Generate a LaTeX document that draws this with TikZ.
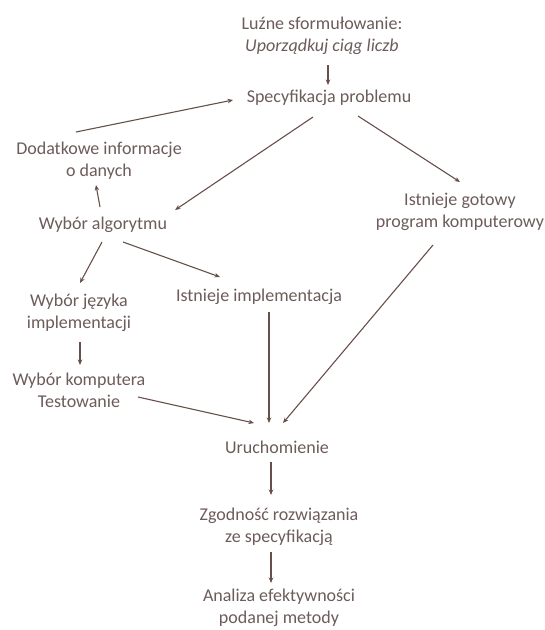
\documentclass[tikz,border=0pt]{standalone}
\usepackage{fontspec}
\setmainfont{Carlito}
\usetikzlibrary{calc,arrows.meta}
\definecolor{txtcol}{RGB}{108,92,90}
\definecolor{arrcol}{RGB}{104,80,74}
\tikzset{
  lbl/.style={align=center, inner sep=0pt, text=txtcol, font=\fontsize{18}{22}\selectfont},
  conn/.style={draw=arrcol, line width=1.1pt, -{Stealth[length=5.5pt,width=4.5pt]}}
}
\begin{document}
\begin{tikzpicture}[x=1pt,y=-1pt]
\useasboundingbox (0,0) rectangle (545,630);
\fill[white] (0,0) rectangle (545,630);
\node[lbl] (top) at (322,36) {Luźne sformułowanie:\\\textit{Uporządkuj ciąg liczb}};
\node[lbl] (spec) at (329,98) {Specyfikacja problemu};
\node[lbl] (dod) at (99,161) {Dodatkowe informacje\\o danych};
\node[lbl] (alg) at (103,225) {Wybór algorytmu};
\node[lbl] (got) at (460,212) {Istnieje gotowy\\program komputerowy};
\node[lbl] (jez) at (79,313) {Wybór języka\\implementacji};
\node[lbl] (impl) at (259,297) {Istnieje implementacja};
\node[lbl] (komp) at (79,390) {Wybór komputera\\Testowanie};
\node[lbl] (uru) at (277,447) {Uruchomienie};
\node[lbl] (zgod) at (279,527) {Zgodność rozwiązania\\ze specyfikacją};
\node[lbl] (anal) at (279,608) {Analiza efektywności\\podanej metody};

\draw[conn] ($(top)+(6,29)$) -- ($(spec)+(-1,-13)$);
\draw[conn] ($(dod)+(-23,-29)$) -- ($(spec)+(-96,2)$);
\draw[conn] ($(spec)+(-16,19)$) -- ($(alg)+(72,-15)$);
\draw[conn] ($(spec)+(29,18)$) -- ($(got)+(0,-30)$);
\draw[conn] ($(alg)+(-3,-18)$) -- ($(dod)+(-3,24)$);
\draw[conn] ($(alg)+(-1,17)$) -- ($(jez)+(1,-30)$);
\draw[conn] ($(alg)+(20,17)$) -- ($(impl)+(-39,-20)$);
\draw[conn] ($(got)+(-27,33)$) -- ($(uru)+(6,-24)$);
\draw[conn] ($(jez)+(1,29)$) -- ($(komp)+(1,-25)$);
\draw[conn] ($(komp)+(59,7)$) -- ($(uru)+(-23,-24)$);
\draw[conn] ($(impl)+(10,15)$) -- ($(uru)+(-8,-24)$);
\draw[conn] ($(uru)+(-6,15)$) -- ($(zgod)+(-8,-32)$);
\draw[conn] ($(zgod)+(-8,25)$) -- ($(anal)+(-8,-25)$);
\end{tikzpicture}
\end{document}
